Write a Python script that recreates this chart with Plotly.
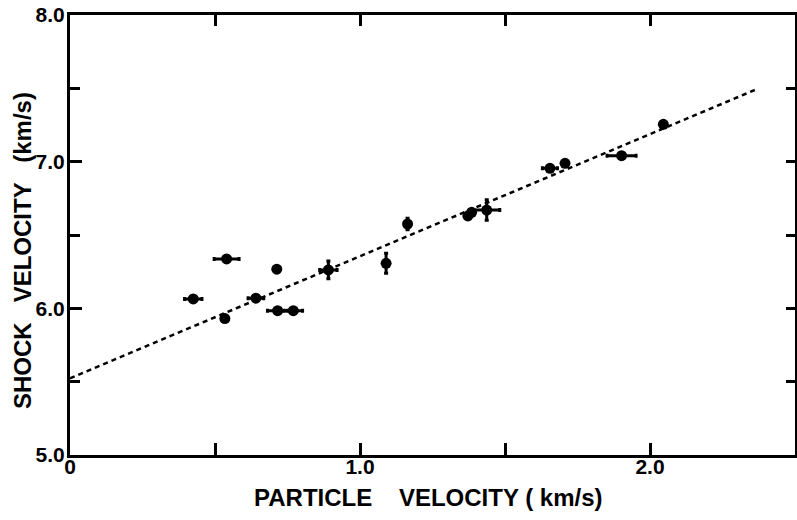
import plotly.graph_objects as go

# Data
particle_velocity = [0.425, 0.540, 0.534, 0.641, 0.713, 0.716, 0.770, 0.891, 1.090,
                     1.164, 1.372, 1.385, 1.437, 1.655, 1.707, 1.902, 2.046]
shock_velocity = [6.064, 6.337, 5.930, 6.069, 6.267, 5.984, 5.984, 6.262, 6.307,
                  6.575, 6.630, 6.655, 6.670, 6.955, 6.989, 7.041, 7.255]
x_err = [0.030, 0.043, 0.0, 0.027, 0.0, 0.035, 0.032, 0.030, 0.0,
         0.0, 0.0, 0.0, 0.045, 0.026, 0.0, 0.050, 0.0]
y_err = [0.0, 0.0, 0.0, 0.0, 0.0, 0.0, 0.0, 0.060, 0.068,
         0.040, 0.0, 0.0, 0.070, 0.0, 0.0, 0.0, 0.0]

fit_x = [0.0, 2.362]
fit_y = [5.523, 7.489]

x_range = [0, 2.5]
y_range = [5, 8]
x_tickvals = [0, 0.5, 1, 1.5, 2]
x_ticktext = ["<b>0</b>", "", "<b>1.0</b>", "", "<b>2.0</b>"]
x_edge_ticks = [0.5, 1, 1.5, 2]
y_tickvals = [5, 6, 7, 8]
y_ticktext = ["<b>5.0</b>", "<b>6.0</b>", "<b>7.0</b>", "<b>8.0</b>"]

x_title = "<b>PARTICLE    VELOCITY ( km/s)</b>"
y_title = "<b>SHOCK   VELOCITY   (km/s)</b>"

FONT = "Liberation Sans, Arial, sans-serif"
STRIP = 11 / 440  # height of the tick strips along the top and bottom edges

fig = go.Figure()
fig.add_trace(go.Scatter(
    x=fit_x, y=fit_y, mode="lines",
    line=dict(color="black", width=2.5, dash="5px,4px"),
    showlegend=False, hoverinfo="skip"))
fig.add_trace(go.Scatter(
    x=particle_velocity, y=shock_velocity, mode="markers",
    marker=dict(color="black", size=11),
    error_x=dict(type="data", array=x_err, color="black", thickness=3, width=2),
    error_y=dict(type="data", array=y_err, color="black", thickness=3, width=2),
    showlegend=False, cliponaxis=False))
# invisible traces that carry the helper axes for the frame ticks
for xa, ya in [("x2", "y2"), ("x3", "y3"), ("x4", "y4")]:
    fig.add_trace(go.Scatter(
        x=fit_x, y=fit_y, xaxis=xa, yaxis=ya, mode="lines",
        line=dict(color="rgba(0,0,0,0)", width=0),
        showlegend=False, hoverinfo="skip"))

tick_common = dict(
    tickcolor="black", tickwidth=3,
    showgrid=False, zeroline=False, automargin=False,
)
strip_x = dict(range=x_range, domain=[0, 1], tickmode="array",
               tickvals=x_edge_ticks, showticklabels=False, ticks="",
               showline=False, zeroline=False, showgrid=True,
               gridcolor="black", gridwidth=3, automargin=False)
strip_y = dict(range=[0, 1], showticklabels=False, ticks="",
               showline=False, zeroline=False, showgrid=False,
               automargin=False)

fig.update_layout(
    xaxis=dict(range=x_range, tickmode="array",
               tickvals=x_tickvals, ticktext=x_ticktext,
               ticks="inside", ticklen=12,
               showline=True, linecolor="black", linewidth=3,
               ticklabelstandoff=-9,
               tickfont=dict(family=FONT, size=21, color="black"),
               **tick_common),
    yaxis=dict(range=y_range, tickvals=y_tickvals, ticktext=y_ticktext,
               ticks="inside", ticklen=12,
               showline=True, linecolor="black", linewidth=3,
               minor=dict(ticks="inside", ticklen=10, tickwidth=2.5,
                          tickcolor="black", dtick=0.5, tick0=5),
               ticklabelstandoff=-2, ticklabeloverflow="allow",
               tickfont=dict(family=FONT, size=21, color="black"),
               **tick_common),
    xaxis2=dict(range=x_range, overlaying="x", side="top", anchor="y2",
                tickmode="array", tickvals=x_tickvals,
                ticks="inside", ticklen=11, showticklabels=False,
                showline=True, linecolor="black", linewidth=3,
                **tick_common),
    yaxis2=dict(range=y_range, overlaying="y", side="right", anchor="x",
                ticks="inside", dtick=0.5, tick0=5, ticklen=9,
                showticklabels=False,
                showline=True, linecolor="black", linewidth=3,
                **tick_common),
    # thin strips along the bottom and top edges; their grid lines act as ticks
    xaxis3=dict(anchor="y3", **strip_x),
    yaxis3=dict(anchor="x3", domain=[0, STRIP], **strip_y),
    xaxis4=dict(anchor="y4", **strip_x),
    yaxis4=dict(anchor="x4", domain=[1 - STRIP, 1], **strip_y),
)

fig.add_annotation(text=x_title, xref="paper", yref="paper",
                   x=0.495, y=-0.0955, xanchor="center", yanchor="middle",
                   showarrow=False,
                   font=dict(family=FONT, size=24, color="black"))
fig.add_annotation(text=y_title, xref="paper", yref="paper",
                   x=-0.0662, y=0.4636, xanchor="center", yanchor="middle",
                   textangle=-90, showarrow=False,
                   font=dict(family=FONT, size=24, color="black"))

fig.update_layout(
    width=797, height=520,
    margin=dict(l=70, r=2, t=15, b=65),
    paper_bgcolor="white", plot_bgcolor="rgba(0,0,0,0)",
)

# remove the default page margin so the figure fills the window exactly
fig.write_html("out.html", config={"displayModeBar": False},
               post_script="document.body.style.margin='0';")
